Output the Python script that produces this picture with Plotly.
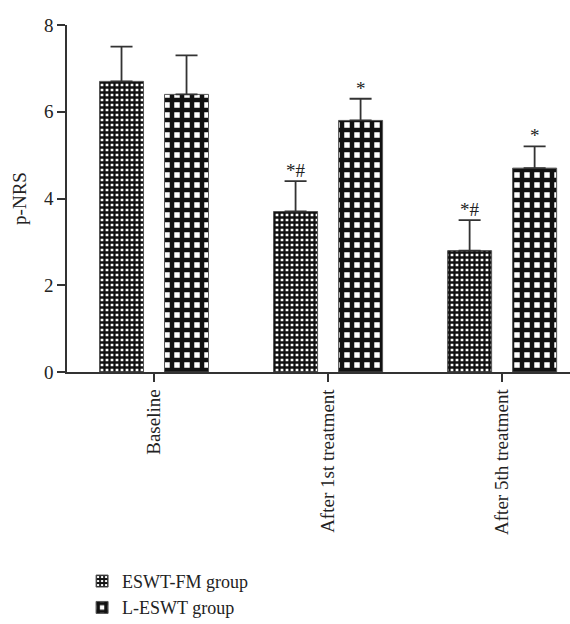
import plotly.graph_objects as go

categories = ["Baseline", "After 1st treatment", "After 5th treatment"]
eswt_fm_mean = [6.7, 3.7, 2.8]
eswt_fm_err = [0.8, 0.7, 0.7]
l_eswt_mean = [6.4, 5.8, 4.7]
l_eswt_err = [0.9, 0.5, 0.5]
eswt_fm_marks = ["", "*#", "*#"]
l_eswt_marks = ["", "*", "*"]
y_ticks = [0, 2, 4, 6, 8]

FONT = "Liberation Serif"
AX = "#333333"
FS = 19

fig = go.Figure()
fig.add_trace(go.Bar(
    name="ESWT-FM group", x=categories, y=eswt_fm_mean,
    marker=dict(color="white", line=dict(color="#555555", width=1),
                pattern=dict(shape="+", size=5, solidity=0.7, fgcolor="#111111",
                             bgcolor="white", fillmode="replace")),
    error_y=dict(type="data", symmetric=False, array=eswt_fm_err,
                 arrayminus=[0] * len(eswt_fm_err), color=AX, thickness=1.8, width=11),
))
fig.add_trace(go.Bar(
    name="L-ESWT group", x=categories, y=l_eswt_mean,
    marker=dict(color="white", line=dict(color="#555555", width=1),
                pattern=dict(shape="+", size=10, solidity=0.7, fgcolor="#111111",
                             bgcolor="white", fillmode="replace")),
    error_y=dict(type="data", symmetric=False, array=l_eswt_err,
                 arrayminus=[0] * len(l_eswt_err), color=AX, thickness=1.8, width=11),
))

for i, c in enumerate(categories):
    if eswt_fm_marks[i]:
        fig.add_annotation(x=c, y=eswt_fm_mean[i] + eswt_fm_err[i], text=eswt_fm_marks[i],
                           xshift=-32.5, yanchor="bottom", showarrow=False, yshift=-2,
                           font=dict(family=FONT, size=FS, color="#222"))
    if l_eswt_marks[i]:
        fig.add_annotation(x=c, y=l_eswt_mean[i] + l_eswt_err[i], text=l_eswt_marks[i],
                           xshift=32.5, yanchor="bottom", showarrow=False, yshift=-2,
                           font=dict(family=FONT, size=FS, color="#222"))

fig.update_layout(
    width=570, height=624,
    margin=dict(l=67, r=0, t=25, b=252, autoexpand=False),
    paper_bgcolor="white", plot_bgcolor="white",
    barmode="group", bargap=0.253, bargroupgap=0.323,
    font=dict(family=FONT, size=FS, color="#222"),
    showlegend=True,
    legend=dict(x=0.03, y=-0.55, xanchor="left", yanchor="top",
                font=dict(family=FONT, size=18, color="#222"),
                tracegroupgap=0, itemwidth=30, bgcolor="rgba(0,0,0,0)"),
)
fig.update_xaxes(
    type="category", range=[-0.5, 2.39], showline=True, linecolor=AX, linewidth=1.5,
    ticks="outside", ticklen=8, tickcolor=AX, tickwidth=1.5, tickangle=-90,
    showgrid=False, zeroline=False, tickfont=dict(family=FONT, size=FS, color="#222"),
)
fig.update_yaxes(
    range=[0, 8], tickvals=y_ticks, showline=True, linecolor=AX, linewidth=1.5,
    ticks="outside", ticklen=8, tickcolor=AX, tickwidth=1.5,
    showgrid=False, zeroline=False, tickfont=dict(family=FONT, size=FS, color="#222"),
    title=dict(text="p-NRS", font=dict(family=FONT, size=FS, color="#222"), standoff=12),
)

fig.write_html("out.html")
